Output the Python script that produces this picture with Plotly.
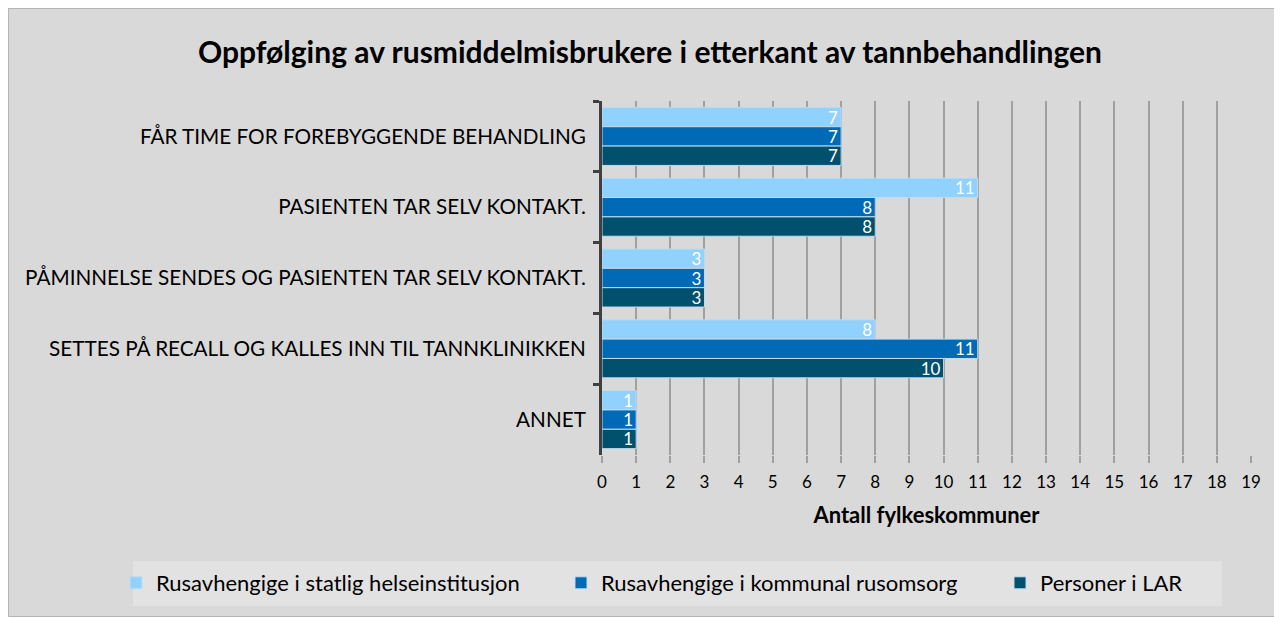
import plotly.graph_objects as go

categories = [
    "FÅR TIME FOR FOREBYGGENDE BEHANDLING",
    "PASIENTEN TAR SELV KONTAKT.",
    "PÅMINNELSE SENDES OG PASIENTEN TAR SELV KONTAKT.",
    "SETTES PÅ RECALL OG KALLES INN TIL TANNKLINIKKEN",
    "ANNET",
]
series_names = [
    "Rusavhengige i statlig helseinstitusjon",
    "Rusavhengige i kommunal rusomsorg",
    "Personer i LAR",
]
statlig = [7, 11, 3, 8, 1]
kommunal = [7, 8, 3, 11, 1]
lar = [7, 8, 3, 10, 1]
x_ticks = list(range(0, 20))

colors = ["#91d1fd", "#006ab7", "#00506e"]
values = [statlig, kommunal, lar]

W, H = 1274, 609
L, R, T, B = 594, 31, 93, 162
pw, ph = W - L - R, H - T - B

def px_x(p):
    return (p - L) / pw

def px_y(p):
    return 1 - (p - T) / ph

legend_ids = ["legend", "legend2", "legend3"]
legend_left = [108, 553, 992]

fig = go.Figure()
for name, vals, c, lid in zip(series_names, values, colors, legend_ids):
    fig.add_trace(go.Bar(
        y=categories, x=vals, name=name, orientation="h",
        marker=dict(color=c, line=dict(color="#c0dcef", width=1)),
        text=[str(v) for v in vals], textposition="inside", insidetextanchor="end",
        textfont=dict(color="white", size=17, family="Lato"),
        textangle=0, constraintext="none", legend=lid,
    ))

# chart border
fig.add_shape(type="rect", xref="paper", yref="paper",
              x0=px_x(0.5), x1=px_x(W - 0.5), y0=px_y(H - 0.5), y1=px_y(0.5),
              fillcolor="rgba(0,0,0,0)", line=dict(color="#b4b4b4", width=1), layer="below")
# legend background
fig.add_shape(type="rect", xref="paper", yref="paper",
              x0=px_x(125), x1=px_x(1214), y0=px_y(598), y1=px_y(553),
              fillcolor="#e2e2e2", line=dict(width=0), layer="below")

legend_common = dict(orientation="h", xref="container", yref="container",
                     xanchor="left", y=1 - 575 / H, yanchor="middle",
                     bgcolor="rgba(0,0,0,0)",
                     font=dict(size=22, family="Lato", color="#000"), itemwidth=30)

fig.update_layout(
    width=W, height=H,
    margin=dict(l=L, r=R, t=T, b=B),
    paper_bgcolor="#d9d9d9", plot_bgcolor="rgba(0,0,0,0)",
    barmode="group", bargap=0.18, bargroupgap=0,
    font=dict(family="Lato", color="#000000"),
    title=dict(text="<b>Oppfølging av rusmiddelmisbrukere i etterkant av tannbehandlingen</b>",
               x=642 / W, xref="container", xanchor="center", y=1 - 44 / H, yref="container",
               yanchor="middle",
               font=dict(size=30, family="Lato", color="#000")),
    xaxis=dict(range=[0, 19], tickvals=x_ticks, showgrid=True, gridcolor="#a0a0a0", gridwidth=1.5,
               ticks="outside", ticklen=7, tickcolor="#a0a0a0", tickwidth=1.5,
               tickfont=dict(size=17, family="Lato", color="#000"), showline=False, zeroline=False,
               ticklabelstandoff=5,
               title=dict(text="<b>Antall fylkeskommuner</b>", font=dict(size=22, family="Lato", color="#000"),
                          standoff=16)),
    yaxis=dict(autorange="reversed", tickson="boundaries", ticks="outside", ticklen=6, tickwidth=3,
               tickcolor="#404040", showline=True, linecolor="#404040", linewidth=3,
               tickfont=dict(size=20.7, family="Lato", color="#000"), ticklabelstandoff=9),
    legend=dict(x=legend_left[0] / W, **legend_common),
    legend2=dict(x=legend_left[1] / W, **legend_common),
    legend3=dict(x=legend_left[2] / W, **legend_common),
    showlegend=True,
)

fig.write_html("out.html")
